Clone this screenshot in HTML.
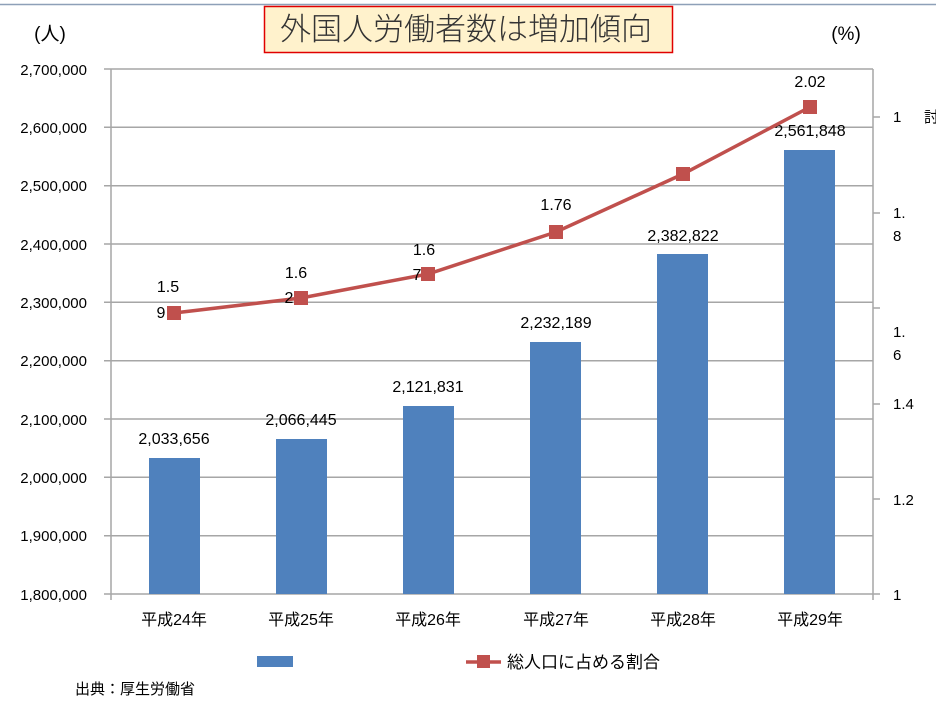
<!DOCTYPE html>
<html><head><meta charset="utf-8"><style>
body{margin:0;background:#fff;}
svg text{font-family:"Liberation Sans","Noto Sans CJK JP",sans-serif;fill:#000;}
</style></head><body>
<svg width="936" height="711" viewBox="0 0 936 711" xmlns="http://www.w3.org/2000/svg">
<line x1="0" y1="4.5" x2="936" y2="4.5" stroke="#8ea0b8" stroke-width="1.5"/>
<rect x="264.5" y="6.5" width="408" height="46" fill="#fff2cc" stroke="#e00000" stroke-width="1.5"/>
<text x="466" y="40" font-size="31" text-anchor="middle" font-weight="300" style="fill:#333">外国人労働者数は増加傾向</text>
<text x="50" y="40" font-size="19" text-anchor="middle">(人)</text>
<text x="846" y="40" font-size="19" text-anchor="middle">(%)</text>
<g stroke="#a6a6a6" stroke-width="1.5">
<line x1="104" y1="69" x2="873" y2="69"/>
<line x1="104" y1="127.3" x2="873" y2="127.3"/>
<line x1="104" y1="185.7" x2="873" y2="185.7"/>
<line x1="104" y1="244" x2="873" y2="244"/>
<line x1="104" y1="302.3" x2="873" y2="302.3"/>
<line x1="104" y1="360.7" x2="873" y2="360.7"/>
<line x1="104" y1="419" x2="873" y2="419"/>
<line x1="104" y1="477.3" x2="873" y2="477.3"/>
<line x1="104" y1="535.7" x2="873" y2="535.7"/>
<line x1="104" y1="594" x2="880" y2="594"/>
<line x1="111" y1="69" x2="111" y2="600"/>
<line x1="873" y1="69" x2="873" y2="600"/>
<line x1="873" y1="117" x2="880" y2="117"/>
<line x1="873" y1="213" x2="880" y2="213"/>
<line x1="873" y1="308" x2="880" y2="308"/>
<line x1="873" y1="404" x2="880" y2="404"/>
<line x1="873" y1="499" x2="880" y2="499"/>
</g>
<g font-size="15" text-anchor="end">
<text x="87" y="75">2,700,000</text>
<text x="87" y="133">2,600,000</text>
<text x="87" y="191">2,500,000</text>
<text x="87" y="250">2,400,000</text>
<text x="87" y="308">2,300,000</text>
<text x="87" y="366">2,200,000</text>
<text x="87" y="425">2,100,000</text>
<text x="87" y="483">2,000,000</text>
<text x="87" y="541">1,900,000</text>
<text x="87" y="600">1,800,000</text>
</g>
<g font-size="15">
<text x="893" y="122">1</text>
<text x="924" y="122">討</text>
<text x="893" y="218">1.</text><text x="893" y="241">8</text>
<text x="893" y="337">1.</text><text x="893" y="360">6</text>
<text x="893" y="409">1.4</text>
<text x="893" y="505">1.2</text>
<text x="893" y="600">1</text>
</g>
<g fill="#4f81bd">
<rect x="149" y="458" width="51" height="136"/>
<rect x="276" y="439" width="51" height="155"/>
<rect x="403" y="406" width="51" height="188"/>
<rect x="530" y="342" width="51" height="252"/>
<rect x="657" y="254" width="51" height="340"/>
<rect x="784" y="150" width="51" height="444"/>
</g>
<g font-size="16" text-anchor="middle">
<text x="174" y="444">2,033,656</text>
<text x="301" y="425">2,066,445</text>
<text x="428" y="392">2,121,831</text>
<text x="556" y="328">2,232,189</text>
<text x="683" y="241">2,382,822</text>
<text x="810" y="136">2,561,848</text>
</g>
<polyline points="174,313 301,298 428,274 556,232 683,174 810,107" fill="none" stroke="#c0504d" stroke-width="3.5"/>
<g fill="#c0504d">
<rect x="167" y="306" width="14" height="14"/>
<rect x="294" y="291" width="14" height="14"/>
<rect x="421" y="267" width="14" height="14"/>
<rect x="549" y="225" width="14" height="14"/>
<rect x="676" y="167" width="14" height="14"/>
<rect x="803" y="100" width="14" height="14"/>
</g>
<g font-size="16" text-anchor="middle">
<text x="168" y="292">1.5</text><text x="161" y="318">9</text>
<text x="296" y="278">1.6</text><text x="289" y="303">2</text>
<text x="424" y="255">1.6</text><text x="417" y="280">7</text>
<text x="556" y="210">1.76</text>
<text x="810" y="87">2.02</text>
</g>
<g font-size="16" text-anchor="middle">
<text x="174" y="625">平成24年</text>
<text x="301" y="625">平成25年</text>
<text x="428" y="625">平成26年</text>
<text x="556" y="625">平成27年</text>
<text x="683" y="625">平成28年</text>
<text x="810" y="625">平成29年</text>
</g>
<rect x="257" y="656" width="36" height="11" fill="#4f81bd"/>
<line x1="466" y1="662" x2="501" y2="662" stroke="#c0504d" stroke-width="3.5"/>
<rect x="477" y="655" width="13" height="13" fill="#c0504d"/>
<text x="507" y="668" font-size="17">総人口に占める割合</text>
<text x="75" y="694" font-size="15">出典：厚生労働省</text>
</svg>
</body></html>
